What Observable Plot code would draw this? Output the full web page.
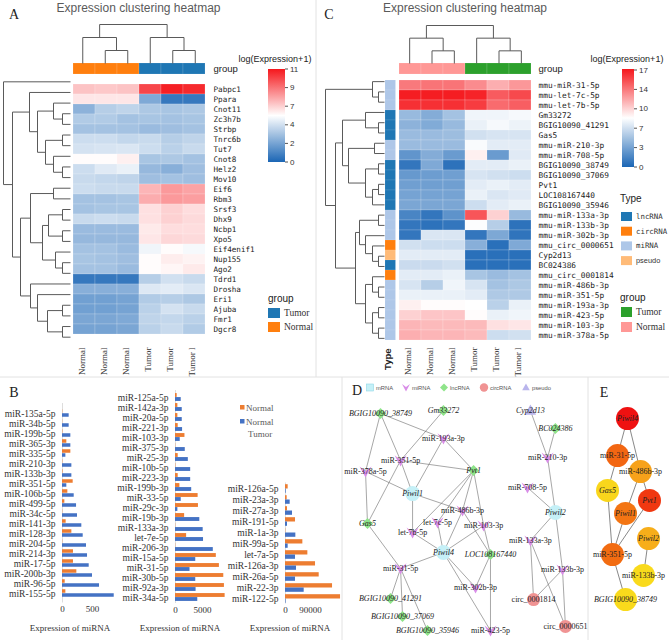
<!DOCTYPE html>
<html><head><meta charset="utf-8">
<script src="https://cdn.jsdelivr.net/npm/d3@7"></script>
<script src="https://cdn.jsdelivr.net/npm/@observablehq/plot@0.6"></script>
<style>
body{margin:0;background:#fff;}
#fig{position:relative;width:669px;height:640px;overflow:hidden;background:#fff;}
#fig svg{position:absolute;left:0;top:0;}
</style></head><body><div id="fig"></div>
<script>
// ---------------- DATA ----------------
const samples = ["N1","N2","N3","T1","T2","T3"];
const sampleLabels = ["Normal","Normal","Normal","Tumor","Tumor","Tumor l"];
const sampleGroups = ["Normal","Normal","Normal","Tumor","Tumor","Tumor"];

const genesA = ["Pabpc1","Ppara","Cnot11","Zc3h7b","Strbp","Tnrc6b","Tut7","Cnot8","Helz2","Mov10","Eif6","Rbm3","Srsf3","Dhx9","Ncbp1","Xpo5","Eif4enif1","Nup155","Ago2","Tdrd1","Drosha","Eri1","Ajuba","Fmr1","Dgcr8"];
const valuesA = [
[7.3,7.2,7.3,10.0,10.8,10.6],[6.3,6.3,6.3,2.2,0.6,0.6],[2.5,3.4,3.6,3.2,3.1,3.2],[3.3,3.3,3.0,3.1,3.0,3.1],
[3.0,3.0,3.0,2.8,2.9,3.0],[3.9,3.9,3.7,3.8,3.4,3.6],[4.1,4.2,4.3,3.9,3.5,3.8],[5.6,5.6,6.0,3.1,3.2,3.0],
[3.9,4.5,4.8,2.7,2.4,2.9],[3.8,3.7,3.6,2.9,3.0,2.9],[3.9,3.8,3.8,7.6,8.2,8.0],[3.0,3.0,3.1,7.8,8.2,8.1],
[3.0,3.1,3.1,6.5,7.0,6.6],[3.8,3.9,3.8,6.5,7.0,6.7],[2.8,2.8,2.8,6.2,6.6,6.6],[2.7,2.7,2.7,6.3,6.8,6.7],
[3.0,3.0,2.8,5.0,5.6,5.2],[3.1,3.0,2.9,5.6,6.1,5.9],[3.0,3.0,2.8,5.6,5.8,6.2],[0.6,0.6,0.6,3.4,4.0,3.8],
[2.4,2.4,2.4,4.4,4.6,4.3],[1.9,1.9,2.0,3.3,3.4,3.2],[1.9,1.9,2.0,3.5,4.1,3.8],[2.1,2.1,2.2,3.6,3.7,3.5],
[2.0,2.0,2.1,3.5,3.8,3.3]];
const ticksA = [11,9,7,4,2,0];
const breaksA = [0,2,4,5.5,7,9,11];

const genesC = ["mmu-miR-31-5p","mmu-let-7c-5p","mmu-let-7b-5p","Gm33272","BGIG10090_41291","Gas5","mmu-miR-210-3p","mmu-miR-708-5p","BGIG10090_38749","BGIG10090_37069","Pvt1","LOC108167440","BGIG10090_35946","mmu-miR-133a-3p","mmu-miR-133b-3p","mmu-miR-302b-3p","mmu_circ_0000651","Cyp2d13","BC024386","mmu_circ_0001814","mmu-miR-486b-3p","mmu-miR-351-5p","mmu-miR-193a-3p","mmu-miR-423-5p","mmu-miR-103-3p","mmu-miR-378a-5p"];
const typesC = ["miRNA","miRNA","miRNA","lncRNA","lncRNA","lncRNA","miRNA","miRNA","lncRNA","lncRNA","lncRNA","lncRNA","lncRNA","miRNA","miRNA","miRNA","circRNA","pseudo","lncRNA","circRNA","miRNA","miRNA","miRNA","miRNA","miRNA","miRNA"];
const valuesC = [
[13.8,14.0,14.0,13.0,11.5,12.5],[16.8,16.8,16.8,16.6,14.8,15.4],[16.2,16.2,16.2,15.8,14.3,14.7],
[4.5,3.6,5.0,8.0,8.0,8.2],[4.0,3.5,4.5,7.8,8.2,7.9],[4.6,4.6,4.7,7.0,7.2,7.2],[4.6,4.6,4.6,8.3,7.6,7.6],
[2.3,3.6,2.6,9.0,2.6,7.5],[0.8,3.4,0.6,7.6,7.6,7.8],[2.5,2.7,2.8,7.2,7.0,6.8],[2.8,2.8,2.8,7.6,7.8,7.6],
[3.0,3.0,3.0,7.8,7.3,7.5],[3.2,3.2,3.2,6.8,7.6,7.8],[1.5,0.8,2.2,15.0,10.0,4.5],[0.8,0.6,0.8,8.4,5.8,0.6],
[0.8,7.3,7.3,0.8,3.3,0.7],[7.0,6.8,6.8,3.8,0.5,3.4],[7.6,7.6,7.6,0.5,0.5,0.5],[6.7,6.7,7.0,0.5,0.5,0.5],
[7.6,7.6,7.8,5.2,4.6,5.0],[7.2,5.8,8.0,7.2,5.0,5.4],[7.8,7.8,7.8,7.6,5.5,5.5],[9.0,8.6,8.6,8.5,6.0,7.8],
[10.0,10.5,10.5,8.6,7.8,8.0],[11.2,11.0,11.0,11.0,9.5,9.3],[11.5,11.2,11.2,11.0,6.8,7.0]];
const ticksC = [17,14,10,7,3,0];
const breaksC = [0,3,7,8.5,10,14,17];
const typeDomain = ["lncRNA","circRNA","miRNA","pseudo"];

// dendrograms: [left, right, merge height]; leaves are row/column indices
const colTree = [[0,[1,2,1],2],[3,[4,5,1],2],3];
const rowTreeA = [0,[[1,[[2,[3,4,8],17],[[5,6,8],[7,[8,9,8],17],25],33],41],
  [[[10,11,17],[[[12,13,8],[14,15,8],22],[16,[17,18,8],15],28],40],[19,[20,[[21,22,8],[23,24,8],23],33],40],50],58],67];
const rowTreeC = [[0,[1,2,6],12],
  [[[3,[4,5,6],19],[[6,7,10],[[8,9,6],[[10,11,6],12,12],19],36],42],
   [[[13,14,6],[15,[16,[17,18,6],12],19],25],[[19,[20,21,6],12],[[22,23,6],[24,25,6],12],19],29],49],59];

// panel B
const catsB1 = ["miR-135a-5p","miR-34b-5p","miR-199b-5p","miR-365-3p","miR-335-5p","miR-210-3p","miR-133b-3p","miR-351-5p","miR-106b-5p","miR-499-5p","miR-34c-5p","miR-141-3p","miR-128-3p","miR-204-5p","miR-214-3p","miR-17-5p","miR-200b-3p","miR-96-5p","miR-155-5p"];
const normalB1 = [4,3,6,72,139,5,8,178,89,39,4,61,156,4,183,183,239,45,56];
const tumorB1 = [111,111,139,139,56,156,156,72,195,234,250,322,345,400,417,445,500,617,862];
const catsB2 = ["miR-125a-5p","miR-142a-3p","miR-20a-5p","miR-221-3p","miR-103-3p","miR-375-3p","miR-25-3p","miR-10b-5p","miR-223-3p","miR-199b-3p","miR-33-5p","miR-29c-3p","miR-19b-3p","miR-133a-3p","let-7e-5p","miR-206-3p","miR-15a-5p","miR-31-5p","miR-30b-5p","miR-92a-3p","miR-34a-5p"];
const normalB2 = [310,440,440,500,1750,40,500,60,500,810,4190,4250,1690,40,2060,40,7560,8130,8940,9060,9190];
const tumorB2 = [1060,1250,1250,1310,875,1810,2375,2810,2810,3000,1060,440,4500,5125,5190,7000,3750,2690,3750,3810,4125];
const catsB3 = ["miR-126a-5p","miR-23a-3p","miR-27a-3p","miR-191-5p","miR-1a-3p","miR-99a-5p","let-7a-5p","miR-126a-3p","miR-26a-5p","miR-22-3p","miR-122-5p"];
const normalB3 = [9600,6000,7200,36000,1000,62400,80400,108000,121200,169200,198000];
const tumorB3 = [2400,16800,25200,7200,37200,9600,36000,39600,36000,67200,2000];
const ticksB1 = [0,500], ticksB2 = [0,5000], ticksB3 = [0,90000];

// panel D network (layout units 0-100)
const nodeNamesD = ["BGIG10090_38749","Gm33272","miR-193a-3p","miR-351-5p","miR-378a-5p","Pvt1","Piwil1","miR-486b-3p","let-7c-5p","miR-103-3p","Gas5","let-7b-5p","Piwil4","LOC108167440","miR-31-5p","miR-302b-3p","BGIG10090_41291","BGIG10090_37069","BGIG10090_35946","miR-423-5p","Cyp2d13","BC024386","miR-210-3p","miR-708-5p","Piwil2","miR-133a-3p","miR-133b-3p","circ_0001814","circ_0000651"];
const nodeTypesD = ["lncRNA","lncRNA","miRNA","miRNA","miRNA","lncRNA","mRNA","miRNA","miRNA","miRNA","lncRNA","miRNA","mRNA","lncRNA","miRNA","miRNA","lncRNA","lncRNA","lncRNA","miRNA","pseudo","lncRNA","miRNA","miRNA","mRNA","miRNA","miRNA","circRNA","circRNA"];
const nodeXD = [15.5,41.2,41.2,23.7,9.4,53.5,28.6,49.0,38.8,57.6,10.2,28.6,41.2,60.4,23.7,54.3,19.6,24.5,34.7,60.4,76.7,86.9,83.7,75.5,86.9,76.7,89.8,78.0,91.0];
const nodeYD = [6.2,5.0,16.5,25.6,30.2,29.8,39.3,46.3,51.2,52.5,51.7,55.4,63.6,64.5,70.2,78.1,82.6,90.1,95.9,95.9,5.0,12.4,24.4,36.8,47.1,58.7,70.7,83.1,94.2];
const edgesD = [["BGIG10090_38749","miR-193a-3p"],["BGIG10090_38749","miR-378a-5p"],["BGIG10090_38749","miR-351-5p"],["miR-351-5p","Piwil1"],
 ["Gm33272","miR-351-5p"],["miR-351-5p","Gas5"],["miR-378a-5p","Gas5"],["miR-193a-3p","Pvt1"],["miR-193a-3p","Piwil1"],["miR-351-5p","Pvt1"],
 ["miR-378a-5p","Piwil1"],["Piwil1","miR-486b-3p"],["Pvt1","let-7c-5p"],["Pvt1","let-7b-5p"],["Pvt1","miR-486b-3p"],["Pvt1","miR-103-3p"],
 ["Piwil1","let-7b-5p"],["let-7b-5p","Piwil4"],["let-7c-5p","Piwil4"],["miR-486b-3p","Piwil4"],["miR-103-3p","Piwil4"],["miR-486b-3p","LOC108167440"],
 ["miR-103-3p","LOC108167440"],["Gas5","miR-31-5p"],["miR-31-5p","Piwil4"],["miR-31-5p","BGIG10090_41291"],["miR-31-5p","BGIG10090_37069"],
 ["miR-31-5p","BGIG10090_35946"],["Piwil4","miR-302b-3p"],["Piwil4","miR-423-5p"],["LOC108167440","miR-302b-3p"],["LOC108167440","miR-423-5p"],
 ["Cyp2d13","miR-210-3p"],["BC024386","miR-210-3p"],["miR-210-3p","Piwil2"],["miR-708-5p","Piwil2"],["Piwil2","miR-133a-3p"],["Piwil2","miR-133b-3p"],
 ["miR-133a-3p","circ_0001814"],["miR-133a-3p","circ_0000651"],["miR-133b-3p","circ_0001814"],["miR-133b-3p","circ_0000651"]];

// panel E hub network (layout units 0-100)
const nodeNamesE = ["Piwil4","miR-31-5p","miR-486b-3p","Gas5","Pvt1","Piwil1","Piwil2","miR-351-5p","miR-133b-3p","BGIG10090_38749"];
const nodeXE = [48.1,35.8,64.2,23.5,75.3,45.7,74.1,29.6,67.9,45.7];
const nodeYE = [8.3,23.6,30.2,38.0,42.1,47.5,57.9,64.5,73.1,83.1];
const scoreE = [10,7.2,4,1.3,8.7,6.5,3.4,7,1.1,1.1];
const edgesE = [["Piwil4","miR-31-5p"],["Piwil4","miR-486b-3p"],["miR-31-5p","Gas5"],["Gas5","miR-351-5p"],["miR-486b-3p","Piwil1"],
 ["miR-486b-3p","Pvt1"],["Piwil1","miR-351-5p"],["Pvt1","miR-351-5p"],["miR-351-5p","BGIG10090_38749"],["Piwil2","miR-133b-3p"]];

// ---------------- HELPERS ----------------
const W = 669, H = 640;
const fig = document.getElementById("fig");
function frame(x0, x1, y0, y1) {
  return {width: W, height: H, marginLeft: x0, marginRight: W - x1, marginTop: y0, marginBottom: H - y1,
    style: {background: "transparent", overflow: "visible"}};
}
function add(p) { p.style.position = "absolute"; p.style.left = "0px"; p.style.top = "0px"; fig.appendChild(p); }
const BLUE = "#1b66b5", RED = "#f5171c";
function ramp(t) { return t < 0.5 ? d3.interpolateRgb(BLUE, "#ffffff")(t / 0.5) : d3.interpolateRgb("#ffffff", RED)((t - 0.5) / 0.5); }
const rampPos = [0, .2, .4, .5, .6, .8, 1];
const rampColors = rampPos.map(ramp);
function dendro(tree) {
  const links = [];
  (function walk(n) {
    if (typeof n === "number") return {p: n, h: 0};
    const a = walk(n[0]), b = walk(n[1]), h = n[2];
    links.push({p1: a.p, h1: a.h, p2: a.p, h2: h}, {p1: b.p, h1: b.h, p2: b.p, h2: h}, {p1: a.p, h1: h, p2: b.p, h2: h});
    return {p: (a.p + b.p) / 2, h};
  })(tree);
  return links;
}
const SERIF = "Liberation Serif", SANS = "Liberation Sans", MONO = "DejaVu Sans Mono";

// ---------------- OVERLAY (dividers, titles, legends) ----------------
const ov = d3.create("svg").attr("width", W).attr("height", H);
const defs = ov.append("defs");
function gradient(id) {
  const g = defs.append("linearGradient").attr("id", id).attr("x1", 0).attr("y1", 1).attr("x2", 0).attr("y2", 0);
  d3.range(0, 1.0001, 0.05).forEach(t => g.append("stop").attr("offset", t).attr("stop-color", ramp(t)));
}
gradient("gA"); gradient("gC");
function line(x1, y1, x2, y2, c) { return ov.append("line").attr("x1", x1).attr("y1", y1).attr("x2", x2).attr("y2", y2).attr("stroke", c || "#e2e2e2").attr("stroke-width", 1); }
line(316, 0, 316, 377); line(0, 377, W, 377); line(342, 377, 342, H); line(588, 377, 588, H);
function T(x, y, s, o = {}) {
  const t = ov.append("text").attr("x", x).attr("y", y).text(s)
    .attr("font-family", o.ff || SANS).attr("font-size", o.fs || 10).attr("fill", o.fill || "#222")
    .attr("text-anchor", o.anchor || "start").attr("dominant-baseline", "central");
  if (o.italic) t.attr("font-style", "italic");
  return t;
}
function R(x, y, w, h, fill) { return ov.append("rect").attr("x", x).attr("y", y).attr("width", w).attr("height", h).attr("fill", fill); }

T(138.5, 8, "Expression clustering heatmap", {fs: 12, fill: "#5a5a5a", anchor: "middle"});
T(465, 8, "Expression clustering heatmap", {fs: 12, fill: "#5a5a5a", anchor: "middle"});
T(14, 14, "A", {ff: SERIF, fs: 14, anchor: "middle"});
T(329, 14, "C", {ff: SERIF, fs: 14, anchor: "middle"});
T(14, 392, "B", {ff: SERIF, fs: 14, anchor: "middle"});
T(357, 390, "D", {ff: SERIF, fs: 14, anchor: "middle"});
T(604, 392, "E", {ff: SERIF, fs: 14, anchor: "middle"});

// A colour legend
T(275, 59, "log(Expression+1)", {fs: 9, anchor: "middle"});
R(268, 69, 17, 93, "url(#gA)");
ticksA.forEach((v, i) => { const y = 69 + i * 93 / 5; line(285, y, 288, y, "#555");
  T(290, y, String(v), {fs: 8, fill: "#333"}); });
T(268, 298, "group", {fs: 10});
R(268, 308, 12, 10, "#1f77b4"); T(284, 313, "Tumor", {ff: SERIF, fs: 9.5, fill: "#333"});
R(268, 322, 12, 10, "#ff7f0e"); T(284, 327, "Normal", {ff: SERIF, fs: 9.5, fill: "#333"});

// C colour legend
T(627, 59, "log(Expression+1)", {fs: 9, anchor: "middle"});
R(622, 69, 12, 98, "url(#gC)");
ticksC.forEach((v, i) => { const y = 70 + i * 97 / 5; line(634, y, 637, y, "#555");
  T(639, y, String(v), {fs: 8, fill: "#333"}); });
T(620, 198, "Type", {fs: 10});
const typeColors = ["#1f77b4", "#ff7f0e", "#aec7e8", "#ffbb78"];
typeDomain.forEach((t, i) => { R(621, 212 + i * 14.7, 11, 9, typeColors[i]);
  T(636, 216.5 + i * 14.7, t, {ff: t === "pseudo" ? SANS : MONO, fs: 7.4, fill: "#333"}); });
T(620, 297, "group", {fs: 10});
R(621, 307, 11, 10, "#2ca02c"); T(636, 312, "Tumor", {ff: SERIF, fs: 9.5, fill: "#333"});
R(621, 322, 11, 10, "#ff9896"); T(636, 327, "Normal", {ff: SERIF, fs: 9.5, fill: "#333"});

// B legend & axis titles
R(240, 405, 4.5, 4.5, "#ed7d31"); T(246, 407.5, "Normal", {ff: SERIF, fs: 9, fill: "#595959"});
R(240, 419, 4.5, 4.5, "#4472c4"); T(246, 421.5, "Normal", {ff: SERIF, fs: 9, fill: "#595959"});
T(248, 434, "Tumor", {ff: SERIF, fs: 9, fill: "#595959"});
[70, 180, 290].forEach(x => T(x, 628, "Expression of miRNA", {ff: SERIF, fs: 9, fill: "#333", anchor: "middle"}));

// D legend symbols
const symV = {draw(c, s) { const r = Math.sqrt(s / Math.PI); c.moveTo(-r, -0.85 * r); c.lineTo(0, -0.1 * r); c.lineTo(r, -0.85 * r); c.lineTo(0, r); c.closePath(); }};
const symDiamond = {draw(c, s) { const r = Math.sqrt(s / Math.PI); c.moveTo(0, -r); c.lineTo(r, 0); c.lineTo(0, r); c.lineTo(-r, 0); c.closePath(); }};
const symTri = {draw(c, s) { const r = Math.sqrt(s / Math.PI); c.moveTo(0, -r); c.lineTo(0.95 * r, 0.7 * r); c.lineTo(-0.95 * r, 0.7 * r); c.closePath(); }};
const typeStyleD = {
  mRNA: {fill: "#c5f0f7", sym: "circle", r: 7.5},
  miRNA: {fill: "#d98ee8", sym: symV, r: 6},
  lncRNA: {fill: "#8fe48a", sym: symDiamond, r: 5.5},
  circRNA: {fill: "#f09393", sym: "circle", r: 6.5},
  pseudo: {fill: "#b9b5ec", sym: symTri, r: 6}
};
R(366.5, 384, 7, 7, "#c5f0f7").attr("stroke", "#8fd8e6").attr("stroke-width", 0.6);
T(376, 387.5, "mRNA", {fs: 5.8, fill: "#555"});
ov.append("path").attr("d", d3.symbol(symV, Math.PI * 16)()).attr("transform", "translate(406,387.5)").attr("fill", "#d98ee8");
T(412, 387.5, "miRNA", {fs: 5.8, fill: "#555"});
ov.append("path").attr("d", d3.symbol(symDiamond, Math.PI * 16)()).attr("transform", "translate(444,387.5)").attr("fill", "#8fe48a");
T(450, 387.5, "lncRNA", {fs: 5.8, fill: "#555"});
ov.append("circle").attr("cx", 484).attr("cy", 387.5).attr("r", 4.2).attr("fill", "#f09393");
T(490, 387.5, "circRNA", {fs: 5.8, fill: "#555"});
ov.append("path").attr("d", d3.symbol(symTri, Math.PI * 16)()).attr("transform", "translate(526,387.5)").attr("fill", "#b9b5ec");
T(532, 387.5, "pseudo", {fs: 5.8, fill: "#555"});
fig.appendChild(ov.node());

// ---------------- PANEL A ----------------
const cellsA = genesA.flatMap((g, i) => samples.map((s, j) => ({gene: g, sample: s, value: valuesA[i][j]})));
add(Plot.plot({...frame(71, 206, 76, 342),
  x: {type: "band", domain: samples, padding: 0, axis: null},
  y: {type: "band", domain: genesA, padding: 0, axis: null},
  color: {type: "linear", domain: breaksA, range: rampColors, interpolate: "rgb"},
  marks: [
    Plot.cell(cellsA, {x: "sample", y: "gene", fill: "value", inset: 0, stroke: "#fff", strokeOpacity: 0.35, strokeWidth: 0.5}),
    Plot.text(genesA, {y: d => d, frameAnchor: "right", dx: 7, textAnchor: "start", fontFamily: MONO, fontSize: 7.6, fill: "#222"}),
    Plot.text(samples, {x: d => d, text: (d, i) => sampleLabels[i], frameAnchor: "bottom", dy: 5, rotate: -90, textAnchor: "end", fontFamily: SERIF, fontSize: 9, fill: "#333"})
  ]}));
add(Plot.plot({...frame(71, 206, 63, 74),
  x: {type: "band", domain: samples, padding: 0, axis: null}, y: {axis: null},
  color: {domain: ["Normal", "Tumor"], range: ["#ff7f0e", "#1f77b4"]},
  marks: [
    Plot.cell(samples, {x: d => d, fill: (d, i) => sampleGroups[i], inset: 0, stroke: "#fff", strokeOpacity: 0.25, strokeWidth: 0.5}),
    Plot.text(["group"], {frameAnchor: "right", dx: 7, textAnchor: "start", fontFamily: SANS, fontSize: 9.5, fill: "#222"})
  ]}));
add(Plot.plot({...frame(71, 206, 24, 63),
  x: {domain: [-0.5, 5.5], axis: null}, y: {domain: [0, 3], axis: null},
  marks: [Plot.link(dendro(colTree), {x1: "p1", y1: "h1", x2: "p2", y2: "h2", stroke: "#5a5a5a", strokeWidth: 1})]}));
add(Plot.plot({...frame(3, 70, 76, 342),
  x: {domain: [0, 67], reverse: true, axis: null}, y: {domain: [-0.5, genesA.length - 0.5], reverse: true, axis: null},
  marks: [Plot.link(dendro(rowTreeA), {x1: "h1", y1: "p1", x2: "h2", y2: "p2", stroke: "#5a5a5a", strokeWidth: 1})]}));

// ---------------- PANEL C ----------------
const cellsC = genesC.flatMap((g, i) => samples.map((s, j) => ({gene: g, sample: s, value: valuesC[i][j]})));
add(Plot.plot({...frame(398, 532, 76, 343),
  x: {type: "band", domain: samples, padding: 0, axis: null},
  y: {type: "band", domain: genesC, padding: 0, axis: null},
  color: {type: "linear", domain: breaksC, range: rampColors, interpolate: "rgb"},
  marks: [
    Plot.cell(cellsC, {x: "sample", y: "gene", fill: "value", inset: 0, stroke: "#fff", strokeOpacity: 0.35, strokeWidth: 0.5}),
    Plot.text(genesC, {y: d => d, frameAnchor: "right", dx: 6, textAnchor: "start", fontFamily: MONO, fontSize: 7.8, fill: "#222"}),
    Plot.text(samples, {x: d => d, text: (d, i) => sampleLabels[i], frameAnchor: "bottom", dy: 4, rotate: -90, textAnchor: "end", fontFamily: SERIF, fontSize: 9, fill: "#333"})
  ]}));
add(Plot.plot({...frame(398, 532, 63, 74),
  x: {type: "band", domain: samples, padding: 0, axis: null}, y: {axis: null},
  color: {domain: ["Normal", "Tumor"], range: ["#ff9896", "#2ca02c"]},
  marks: [
    Plot.cell(samples, {x: d => d, fill: (d, i) => sampleGroups[i], inset: 0, stroke: "#fff", strokeOpacity: 0.25, strokeWidth: 0.5}),
    Plot.text(["group"], {frameAnchor: "right", dx: 6, textAnchor: "start", fontFamily: SANS, fontSize: 9.5, fill: "#222"})
  ]}));
add(Plot.plot({...frame(385, 395.5, 76, 343),
  x: {axis: null}, y: {type: "band", domain: genesC, padding: 0, axis: null},
  color: {domain: typeDomain, range: typeColors},
  marks: [
    Plot.cell(genesC, {y: d => d, fill: (d, i) => typesC[i], inset: 0, stroke: "#fff", strokeOpacity: 0.2, strokeWidth: 0.5}),
    Plot.text(["Type"], {frameAnchor: "bottom", dy: 5, rotate: -90, textAnchor: "end", fontFamily: SANS, fontWeight: "bold", fontSize: 9.5, fill: "#222"})
  ]}));
add(Plot.plot({...frame(398, 532, 25, 63),
  x: {domain: [-0.5, 5.5], axis: null}, y: {domain: [0, 3], axis: null},
  marks: [Plot.link(dendro(colTree), {x1: "p1", y1: "h1", x2: "p2", y2: "h2", stroke: "#5a5a5a", strokeWidth: 1})]}));
add(Plot.plot({...frame(325, 384, 76, 343),
  x: {domain: [0, 59], reverse: true, axis: null}, y: {domain: [-0.5, genesC.length - 0.5], reverse: true, axis: null},
  marks: [Plot.link(dendro(rowTreeC), {x1: "h1", y1: "p1", x2: "h2", y2: "p2", stroke: "#5a5a5a", strokeWidth: 1})]}));

// ---------------- PANEL B ----------------
function barPanel(cats, normal, tumor, xmax, x0, x1, y0, y1, ticks, thick) {
  const bw = (y1 - y0) / cats.length;
  const rowsN = cats.map((c, i) => ({cat: c, series: "Normal", v: normal[i]}));
  const rowsT = cats.map((c, i) => ({cat: c, series: "Tumor", v: tumor[i]}));
  add(Plot.plot({...frame(x0, x1, y0, y1),
    x: {domain: [0, xmax], axis: null},
    y: {type: "band", domain: cats, padding: 0, axis: null},
    color: {domain: ["Normal", "Tumor"], range: ["#ed7d31", "#4472c4"]},
    marks: [
      Plot.ruleX([0], {stroke: "#d4d4d4", strokeWidth: 0.8}),
      Plot.barX(rowsN, {x: "v", y: "cat", fill: "series", insetTop: bw / 2 - thick, insetBottom: bw / 2}),
      Plot.barX(rowsT, {x: "v", y: "cat", fill: "series", insetTop: bw / 2, insetBottom: bw / 2 - thick}),
      Plot.text(cats, {y: d => d, frameAnchor: "left", dx: -7, textAnchor: "end", fontFamily: SERIF, fontSize: 9.5, fill: "#333"}),
      Plot.text(ticks, {x: d => d, text: d => String(d), frameAnchor: "bottom", dy: 9, fontFamily: SERIF, fontSize: 9, fill: "#333"})
    ]}));
}
barPanel(catsB1, normalB1, tumorB1, 1000, 62, 122, 403, 602.5, ticksB1, 4);
barPanel(catsB2, normalB2, tumorB2, 10000, 175, 229, 390, 603, ticksB2, 4);
barPanel(catsB3, normalB3, tumorB3, 200000, 285, 340.6, 482.5, 603.5, ticksB3, 4.3);

// ---------------- PANEL D ----------------
const nodesD = nodeNamesD.map((n, i) => ({name: n, type: nodeTypesD[i], x: nodeXD[i], y: nodeYD[i]}));
const byD = new Map(nodesD.map(d => [d.name, d]));
const linksD = edgesD.map(([a, b]) => ({x1: byD.get(a).x, y1: byD.get(a).y, x2: byD.get(b).x, y2: byD.get(b).y}));
const italicD = d => d.type !== "miRNA" && d.type !== "circRNA";
add(Plot.plot({...frame(342, 587, 398, 640),
  x: {domain: [0, 100], axis: null}, y: {domain: [0, 100], reverse: true, axis: null},
  marks: [
    Plot.link(linksD, {x1: "x1", y1: "y1", x2: "x2", y2: "y2", stroke: "#6b6b6b", strokeWidth: 0.6}),
    ...Object.entries(typeStyleD).map(([t, s]) => Plot.dot(nodesD.filter(d => d.type === t), {x: "x", y: "y", symbol: s.sym, r: s.r, fill: s.fill, stroke: "none"})),
    Plot.text(nodesD.filter(italicD), {x: "x", y: "y", text: "name", fontStyle: "italic", fontFamily: SERIF, fontSize: 8, fill: "#222"}),
    Plot.text(nodesD.filter(d => !italicD(d)), {x: "x", y: "y", text: "name", fontFamily: SERIF, fontSize: 8, fill: "#222"})
  ]}));

// ---------------- PANEL E ----------------
const nodesE = nodeNamesE.map((n, i) => ({name: n, x: nodeXE[i], y: nodeYE[i], score: scoreE[i]}));
const byE = new Map(nodesE.map(d => [d.name, d]));
const linksE = edgesE.map(([a, b]) => ({x1: byE.get(a).x, y1: byE.get(a).y, x2: byE.get(b).x, y2: byE.get(b).y}));
const italicE = d => !d.name.startsWith("miR");
add(Plot.plot({...frame(588, 669, 398, 640),
  x: {domain: [0, 100], axis: null}, y: {domain: [0, 100], reverse: true, axis: null},
  color: {type: "linear", domain: [1, 4, 7, 10], range: ["#f9dc1c", "#f7a21a", "#f26c12", "#ef1111"], interpolate: "rgb"},
  marks: [
    Plot.link(linksE, {x1: "x1", y1: "y1", x2: "x2", y2: "y2", stroke: "#555", strokeWidth: 0.7}),
    Plot.dot(nodesE, {x: "x", y: "y", r: 11.5, fill: "score", stroke: "none"}),
    Plot.text(nodesE.filter(italicE), {x: "x", y: "y", text: "name", fontStyle: "italic", fontFamily: SERIF, fontSize: 8, fill: "#222"}),
    Plot.text(nodesE.filter(d => !italicE(d)), {x: "x", y: "y", text: "name", fontFamily: SERIF, fontSize: 8, fill: "#222"})
  ]}));
</script></body></html>
